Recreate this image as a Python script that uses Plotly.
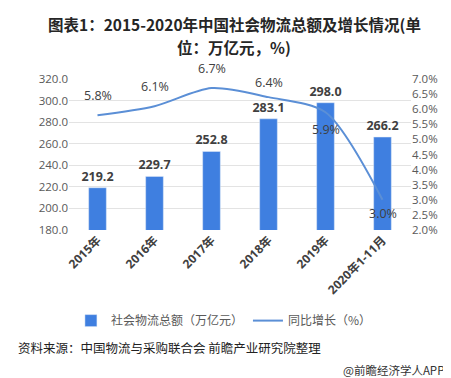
import plotly.graph_objects as go

categories = ["2015年", "2016年", "2017年", "2018年", "2019年", "2020年1-11月"]
totals = [219.2, 229.7, 252.8, 283.1, 298.0, 266.2]
growth = [5.8, 6.1, 6.7, 6.4, 5.9, 3.0]
growth_labels = ["5.8%", "6.1%", "6.7%", "6.4%", "5.9%", "3.0%"]
left_ticks = [180, 200, 220, 240, 260, 280, 300, 320]
right_ticks = [2.0, 2.5, 3.0, 3.5, 4.0, 4.5, 5.0, 5.5, 6.0, 6.5, 7.0]

FONT = "Open Sans, Noto Sans CJK SC, sans-serif"
CJK = "Noto Sans CJK SC, sans-serif"
BAR_C = "#3F7FE0"
LINE_C = "#5B8FD6"

fig = go.Figure()
fig.add_trace(go.Bar(
    x=categories, y=totals, name="社会物流总额（万亿元）",
    marker_color=BAR_C, width=0.31,
    text=[f"{v:.1f}" for v in totals], textposition="outside", constraintext="none",
    textfont=dict(size=12.5, color="#404040", family=FONT, weight="bold"),
    cliponaxis=False,
))
fig.add_trace(go.Scatter(
    x=categories, y=growth, name="同比增长（%）", yaxis="y2",
    mode="lines", line=dict(color=LINE_C, width=2, shape="spline", smoothing=0.8),
))

# growth labels
offsets = [-20, -20, -20, -15, 17, 14]
for c, g, t, o in zip(categories, growth, growth_labels, offsets):
    fig.add_annotation(x=c, y=g, yref="y2", text=t, showarrow=False, yshift=-o,
                       font=dict(size=12.5, color="#404040", family=FONT))

# title (two lines)
for line, py in [("<b>图表1：2015-2020年中国社会物流总额及增长情况(单</b>", 16),
                 ("<b>位：万亿元，%)</b>", 39.5)]:
    fig.add_annotation(xref="paper", yref="paper", x=(226 - 61) / 342, y=(222 - py) / 151,
                       xanchor="center", yanchor="middle", text=line, showarrow=False,
                       borderpad=0, font=dict(size=15.5, color="#262626", family=CJK))

fig.add_annotation(xref="paper", yref="paper", x=-0.155, y=-0.775, xanchor="left", yanchor="middle",
                   text="资料来源：中国物流与采购联合会 前瞻产业研究院整理", showarrow=False,
                   font=dict(size=12.5, color="#222222", family=CJK))
fig.add_annotation(xref="paper", yref="paper", x=(333 - 61) / 342, y=-0.927, xanchor="left", yanchor="middle",
                   text="@前瞻经济学人APP", showarrow=False,
                   font=dict(size=11.5, color="#333333", family=CJK))

fig.update_layout(
    width=451, height=378,
    margin=dict(l=61, r=48, t=71, b=156),
    paper_bgcolor="white", plot_bgcolor="white",
    showlegend=True,
    legend=dict(orientation="h", x=0.453, xanchor="center", y=-0.6, yanchor="middle",
                font=dict(size=12, color="#595959", family=CJK), itemwidth=30),
    xaxis=dict(tickangle=-45, tickfont=dict(size=12, color="#404040", family=FONT, weight="bold"),
               showline=False, showgrid=False, ticks=""),
    yaxis=dict(range=[180, 320], tickvals=left_ticks, ticktext=[f"{v:.1f}" for v in left_ticks],
               tickfont=dict(size=11.5, color="#595959", family=FONT),
               showgrid=True, gridcolor="#E3E3E3", zeroline=False, ticks=""),
    yaxis2=dict(range=[2.0, 7.0], overlaying="y", side="right", tickvals=right_ticks,
                ticktext=[f"{v:.1f}%" for v in right_ticks],
                tickfont=dict(size=11.5, color="#595959", family=FONT),
                showgrid=False, zeroline=False, ticks=""),
    bargap=0.5,
)
fig.write_html("out.html")
